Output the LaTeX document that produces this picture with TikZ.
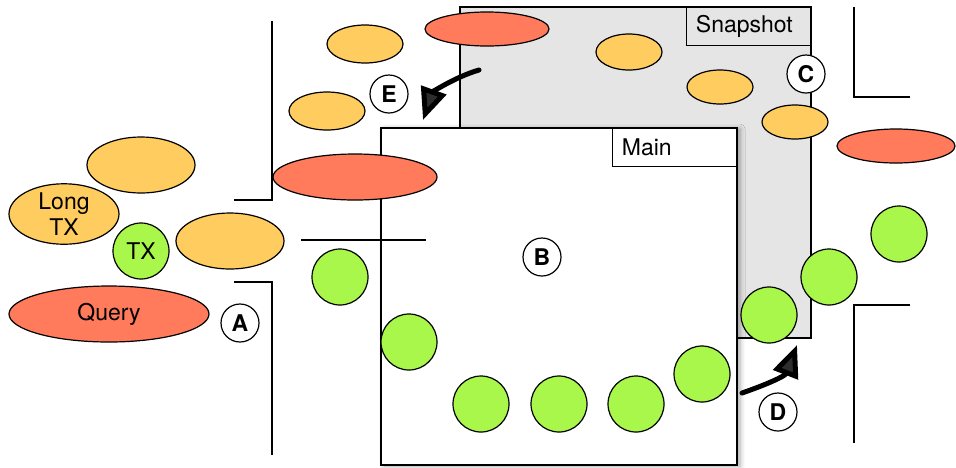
\documentclass[tikz,border=0pt]{standalone}
\usepackage{fontspec}
\setmainfont{TeX Gyre Heros}
\usetikzlibrary{shapes.geometric,arrows.meta,shadows.blur}
\definecolor{salmon}{HTML}{FF7B5C}
\definecolor{amber}{HTML}{FFCC60}
\definecolor{lime}{HTML}{A9F74B}
\definecolor{snapgray}{HTML}{E5E5E5}
\begin{document}
\begin{tikzpicture}[x=0.5pt, y=-0.5pt,
    every node/.style = {font=\fontsize{11.5}{12}\selectfont, inner sep=0pt},
    blob/.style = {ellipse, draw, line width=0.6pt},
    rd/.style = {blob, fill=salmon},
    og/.style = {blob, fill=amber},
    gr/.style = {circle, draw, line width=0.6pt, fill=lime, minimum size=28pt},
    tag/.style = {circle, draw, line width=0.6pt, fill=white, minimum size=19pt,
      font=\fontsize{11.5}{12}\selectfont\bfseries},
    region/.style = {draw, line width=0.6pt},
    tab/.style = {draw, line width=0.6pt, minimum height=19pt, text width=52.5pt,
      inner xsep=4.75pt, align=left, anchor=north east},
    wall/.style = {line width=0.8pt},
    move/.style = {line width=2.5pt, line cap=round,
      -{Triangle[sharp, length=16pt, width=13pt]}}]
  \useasboundingbox (0,0) rectangle (956,467);

  % memory regions
  \draw[region, fill=snapgray] (460,7) rectangle (811,338);
  \node[tab, fill=snapgray] (snaptab) at (811,7) {Snapshot};
  \draw[region, fill=white, blur shadow={shadow xshift=1.5pt, shadow yshift=-0.5pt,
      shadow blur radius=2.5pt, shadow opacity=35}] (381,128) rectangle (737,465);
  \node[tab, fill=white] (maintab) at (737,128) {Main};

  % walls
  \draw[wall] (272,21) -- (272,200) -- (234,200);
  \draw[wall] (234,282) -- (272,282) -- (272,455);
  \draw[wall] (854,7) -- (854,97) -- (910,97);
  \draw[wall] (910,305) -- (854,305) -- (854,443);
  \draw[region] (301,240) -- (426,240);

  % queries and transactions
  \node[og, minimum width=38pt, minimum height=19pt] (o1) at (365,44) {};
  \node[og, minimum width=38pt, minimum height=19pt] (o2) at (327,111) {};
  \node[og, minimum width=54pt, minimum height=28pt] (o3) at (141,165) {};
  \node[og, minimum width=55pt, minimum height=28pt, align=center,
    font=\fontsize{11.5}{13}\selectfont] (longtx) at (64,214) {Long\\TX};
  \node[og, minimum width=54pt, minimum height=28pt] (o4) at (230,241) {};
  \node[rd, minimum width=100pt, minimum height=28pt] (query) at (109,314) {Query};
  \node[rd, minimum width=82pt, minimum height=23pt] (r1) at (355,177) {};
  \node[rd, minimum width=62pt, minimum height=17pt] (r2) at (487,29) {};
  \node[og, minimum width=33pt, minimum height=18pt] (o5) at (629,52) {};
  \node[og, minimum width=33pt, minimum height=17pt] (o6) at (720,87) {};
  \node[og, minimum width=33pt, minimum height=17pt] (o7) at (795,122) {};
  \node[rd, minimum width=59pt, minimum height=17pt] (r3) at (896,146) {};
  \node[gr] (tx) at (141,251) {TX};
  \foreach \x/\y [count=\i] in {340/277, 409/342, 481/404, 559/404, 636/404,
      702/374, 769/315, 829/277, 899/234}
    \node[gr] (g\i) at (\x,\y) {};

  % markers
  \node[tag] (tagA) at (240,323) {A};
  \node[tag] (tagB) at (542,257) {B};
  \node[tag] (tagC) at (806,74) {C};
  \node[tag] (tagD) at (778,412) {D};
  \node[tag] (tagE) at (389,94) {E};

  % moves between regions
  \coordinate (eFrom) at (479,70);
  \coordinate (eTo) at (423,120);
  \coordinate (dFrom) at (742,393);
  \coordinate (dTo) at (797,345);
  \draw[move] (eFrom) .. controls (455,77) and (433,92) .. (eTo);
  \draw[move] (dFrom) .. controls (768,384) and (785,376) .. (dTo);
\end{tikzpicture}
\end{document}
